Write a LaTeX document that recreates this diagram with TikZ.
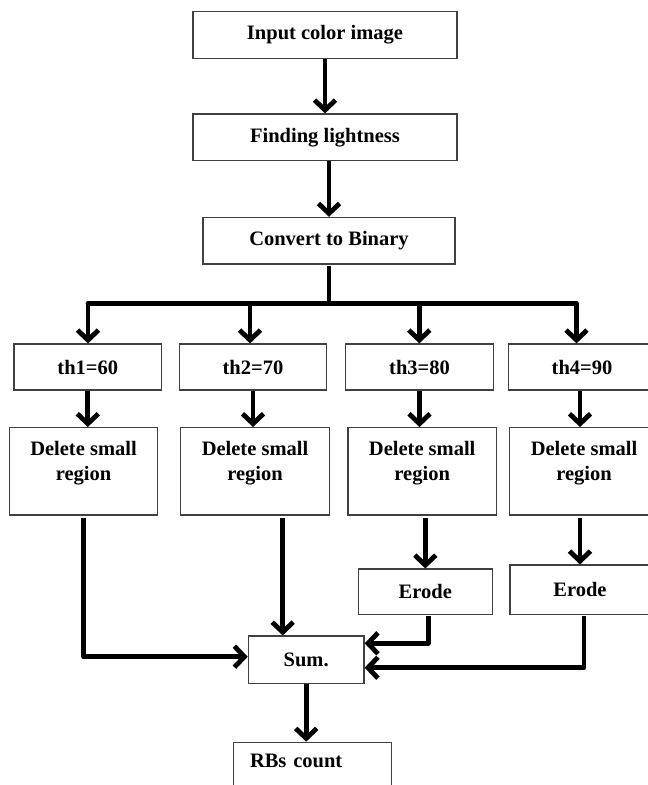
\documentclass[tikz,border=0pt]{standalone}
\usepackage{fontspec}
\setmainfont{Liberation Serif}
\usetikzlibrary{arrows.meta,calc}
\begin{document}
\begin{tikzpicture}[x=1pt,y=-1pt,
  box/.style={draw=black!75, line width=1.2pt, fill=white, inner sep=0pt, align=center,
    font=\fontsize{20.5}{25}\selectfont\bfseries},
  conn/.style={line width=4.8pt, line join=round},
  arr/.style={conn, -{Straight Barb[length=10pt,width=21pt]}}]
\useasboundingbox (0,0) rectangle (648,785);
\clip (0,0) rectangle (648,785);
% boxes
\node[box, minimum width=264, minimum height=46.6] (in) at (325,35) {Input color image};
\node[box, minimum width=264, minimum height=46.6] (find) at (325,137.3) {Finding lightness};
\node[box, minimum width=252, minimum height=46.6] (conv) at (329,240.7) {Convert to Binary};
\node[box, minimum width=147.6, minimum height=46] (th1) at (87.8,367) {th1=60};
\node[box, minimum width=147.6, minimum height=46] (th2) at (253,367) {th2=70};
\node[box, minimum width=147.6, minimum height=46] (th3) at (419.5,367) {th3=80};
\node[box, minimum width=147.6, minimum height=46] (th4) at (582,367) {th4=90};
\node[box, minimum width=148.4, minimum height=87.3] (del1) at (83.5,471.3) {Delete small\\region\\[-12pt]\strut};
\node[box, minimum width=148.4, minimum height=87.3] (del2) at (255,471.3) {Delete small\\region\\[-12pt]\strut};
\node[box, minimum width=148.4, minimum height=87.3] (del3) at (422.2,471.3) {Delete small\\region\\[-12pt]\strut};
\node[box, minimum width=148.4, minimum height=87.3] (del4) at (584,471.3) {Delete small\\region\\[-12pt]\strut};
\node[box, minimum width=134, minimum height=45.3] (er1) at (425.3,591.7) {Erode};
\node[box, minimum width=140, minimum height=49.3] (er2) at (580,589.7) {Erode};
\node[box, minimum width=115.7, minimum height=47.3] (sum) at (306.2,659.7) {Sum.};
\node[box, minimum width=158.4, minimum height=62, anchor=north, align=left,
      text width=125, inner xsep=16.7pt] (rbs) at (312.5,741.7) {RBs count\\[-8pt]\strut};
% bus coordinates
\coordinate (b1) at (88,303.3);
\coordinate (b2) at (250,303.3);
\coordinate (b3) at (419.3,303.3);
\coordinate (b4) at (576.5,303.3);
% connectors
\draw[arr] (in.south) -- (find.north);
\draw[arr] (find.south -| conv.north) -- (conv.north);
\draw[conn] ([yshift=-1pt]conv.south) -- (conv.south |- b1);
\draw[conn, line cap=round] (b1) -- (b4);
\draw[arr] (b1) -- (b1 |- th1.north);
\draw[arr] (b2) -- (b2 |- th2.north);
\draw[arr] (b3) -- (b3 |- th3.north);
\draw[arr] (b4) -- (b4 |- th4.north);
\draw[arr] (th1.south) -- (th1.south |- del1.north);
\draw[arr] (th2.south) -- (th2.south |- del2.north);
\draw[arr] (th3.south) -- (th3.south |- del3.north);
\draw[arr] ([xshift=-2pt]th4.south) -- ([xshift=-2pt]th4.south |- del4.north);
\draw[arr] ([yshift=-2pt]del1.south) |- ([yshift=3pt]sum.west);
\draw[arr] ([xshift=-23.5pt]sum.north |- del2.south) ++(0,2) -- ([xshift=-23.5pt]sum.north);
\draw[arr] ([yshift=-2pt]er1.north |- del3.south) -- (er1.north);
\draw[arr] ([yshift=-2pt]er2.north |- del4.south) -- (er2.north);
\draw[arr] ([xshift=3pt,yshift=-1pt]er1.south) |- ([yshift=16.4pt]sum.east);
\draw[arr] ([xshift=4pt,yshift=-1pt]er2.south) |- ([yshift=-8pt]sum.east);
\draw[arr] (sum.south) -- (sum.south |- rbs.north);
\end{tikzpicture}
\end{document}
